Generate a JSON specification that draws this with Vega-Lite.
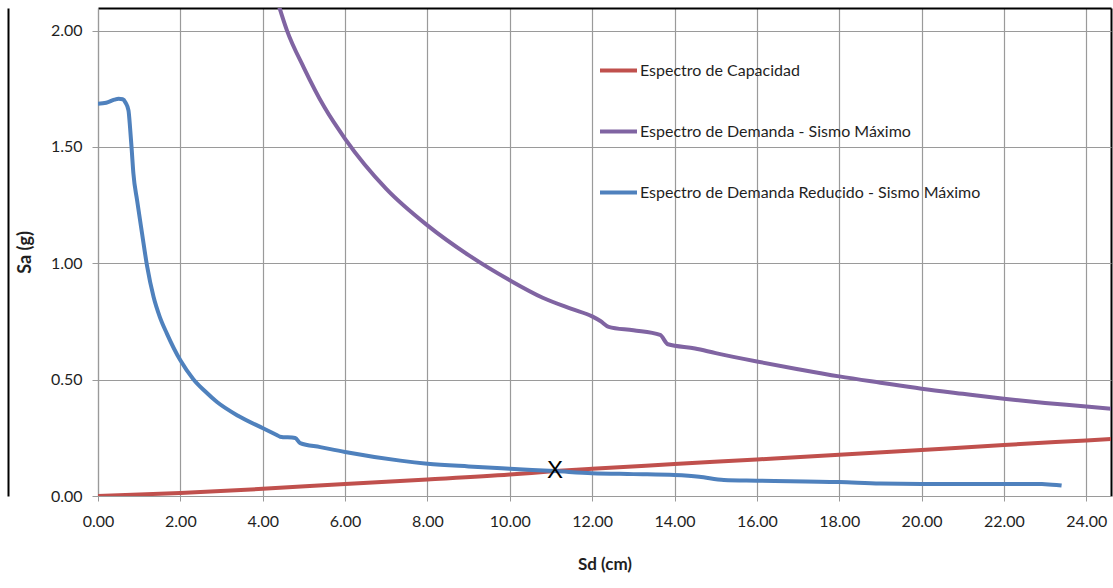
{
  "$schema": "https://vega.github.io/schema/vega-lite/v6.json",
  "autosize": {"type": "none"},
  "padding": {"left": 98, "top": 8, "right": 2, "bottom": 92},
  "width": 1013,
  "height": 488,
  "background": "white",
  "config": {
    "view": {"stroke": null},
    "font": "Lato",
    "axis": {"labelFont": "Lato", "titleFont": "Lato"},
    "legend": {"labelFont": "Lato"}
  },
  "datasets": {
    "curves": [
      {"serie": "Espectro de Capacidad", "sd": 0, "sa": 0},
      {"serie": "Espectro de Capacidad", "sd": 2, "sa": 0.013},
      {"serie": "Espectro de Capacidad", "sd": 4, "sa": 0.031},
      {"serie": "Espectro de Capacidad", "sd": 6, "sa": 0.052},
      {"serie": "Espectro de Capacidad", "sd": 8, "sa": 0.071},
      {"serie": "Espectro de Capacidad", "sd": 10, "sa": 0.092},
      {"serie": "Espectro de Capacidad", "sd": 11.1, "sa": 0.107},
      {"serie": "Espectro de Capacidad", "sd": 12, "sa": 0.117},
      {"serie": "Espectro de Capacidad", "sd": 14, "sa": 0.137},
      {"serie": "Espectro de Capacidad", "sd": 16, "sa": 0.157},
      {"serie": "Espectro de Capacidad", "sd": 18, "sa": 0.177},
      {"serie": "Espectro de Capacidad", "sd": 20, "sa": 0.198},
      {"serie": "Espectro de Capacidad", "sd": 22, "sa": 0.219},
      {"serie": "Espectro de Capacidad", "sd": 24, "sa": 0.239},
      {"serie": "Espectro de Capacidad", "sd": 24.6, "sa": 0.245},

      {"serie": "Espectro de Demanda -  Sismo Máximo", "sd": 4.3, "sa": 2.16},
      {"serie": "Espectro de Demanda -  Sismo Máximo", "sd": 4.59, "sa": 2.0},
      {"serie": "Espectro de Demanda -  Sismo Máximo", "sd": 5, "sa": 1.84},
      {"serie": "Espectro de Demanda -  Sismo Máximo", "sd": 5.5, "sa": 1.67},
      {"serie": "Espectro de Demanda -  Sismo Máximo", "sd": 6, "sa": 1.535},
      {"serie": "Espectro de Demanda -  Sismo Máximo", "sd": 7, "sa": 1.32},
      {"serie": "Espectro de Demanda -  Sismo Máximo", "sd": 8, "sa": 1.163},
      {"serie": "Espectro de Demanda -  Sismo Máximo", "sd": 9, "sa": 1.035},
      {"serie": "Espectro de Demanda -  Sismo Máximo", "sd": 10, "sa": 0.927},
      {"serie": "Espectro de Demanda -  Sismo Máximo", "sd": 10.8, "sa": 0.852},
      {"serie": "Espectro de Demanda -  Sismo Máximo", "sd": 11.5, "sa": 0.804},
      {"serie": "Espectro de Demanda -  Sismo Máximo", "sd": 12, "sa": 0.772},
      {"serie": "Espectro de Demanda -  Sismo Máximo", "sd": 12.2, "sa": 0.752},
      {"serie": "Espectro de Demanda -  Sismo Máximo", "sd": 12.4, "sa": 0.727},
      {"serie": "Espectro de Demanda -  Sismo Máximo", "sd": 13, "sa": 0.712},
      {"serie": "Espectro de Demanda -  Sismo Máximo", "sd": 13.65, "sa": 0.692},
      {"serie": "Espectro de Demanda -  Sismo Máximo", "sd": 13.84, "sa": 0.652},
      {"serie": "Espectro de Demanda -  Sismo Máximo", "sd": 14.5, "sa": 0.634},
      {"serie": "Espectro de Demanda -  Sismo Máximo", "sd": 15, "sa": 0.614},
      {"serie": "Espectro de Demanda -  Sismo Máximo", "sd": 16, "sa": 0.578},
      {"serie": "Espectro de Demanda -  Sismo Máximo", "sd": 17, "sa": 0.545},
      {"serie": "Espectro de Demanda -  Sismo Máximo", "sd": 18, "sa": 0.514},
      {"serie": "Espectro de Demanda -  Sismo Máximo", "sd": 19, "sa": 0.487},
      {"serie": "Espectro de Demanda -  Sismo Máximo", "sd": 20, "sa": 0.461},
      {"serie": "Espectro de Demanda -  Sismo Máximo", "sd": 21, "sa": 0.439},
      {"serie": "Espectro de Demanda -  Sismo Máximo", "sd": 22, "sa": 0.418},
      {"serie": "Espectro de Demanda -  Sismo Máximo", "sd": 23, "sa": 0.4},
      {"serie": "Espectro de Demanda -  Sismo Máximo", "sd": 24, "sa": 0.385},
      {"serie": "Espectro de Demanda -  Sismo Máximo", "sd": 24.6, "sa": 0.375},

      {"serie": "Espectro de Demanda Reducido -  Sismo Máximo", "sd": 0, "sa": 1.686},
      {"serie": "Espectro de Demanda Reducido -  Sismo Máximo", "sd": 0.2, "sa": 1.69},
      {"serie": "Espectro de Demanda Reducido -  Sismo Máximo", "sd": 0.4, "sa": 1.703},
      {"serie": "Espectro de Demanda Reducido -  Sismo Máximo", "sd": 0.5, "sa": 1.707},
      {"serie": "Espectro de Demanda Reducido -  Sismo Máximo", "sd": 0.6, "sa": 1.705},
      {"serie": "Espectro de Demanda Reducido -  Sismo Máximo", "sd": 0.67, "sa": 1.69},
      {"serie": "Espectro de Demanda Reducido -  Sismo Máximo", "sd": 0.74, "sa": 1.657},
      {"serie": "Espectro de Demanda Reducido -  Sismo Máximo", "sd": 0.78, "sa": 1.58},
      {"serie": "Espectro de Demanda Reducido -  Sismo Máximo", "sd": 0.82, "sa": 1.485},
      {"serie": "Espectro de Demanda Reducido -  Sismo Máximo", "sd": 0.86, "sa": 1.385},
      {"serie": "Espectro de Demanda Reducido -  Sismo Máximo", "sd": 0.95, "sa": 1.27},
      {"serie": "Espectro de Demanda Reducido -  Sismo Máximo", "sd": 1.07, "sa": 1.128},
      {"serie": "Espectro de Demanda Reducido -  Sismo Máximo", "sd": 1.19, "sa": 0.99},
      {"serie": "Espectro de Demanda Reducido -  Sismo Máximo", "sd": 1.35, "sa": 0.855},
      {"serie": "Espectro de Demanda Reducido -  Sismo Máximo", "sd": 1.5, "sa": 0.77},
      {"serie": "Espectro de Demanda Reducido -  Sismo Máximo", "sd": 1.67, "sa": 0.699},
      {"serie": "Espectro de Demanda Reducido -  Sismo Máximo", "sd": 2.0, "sa": 0.583},
      {"serie": "Espectro de Demanda Reducido -  Sismo Máximo", "sd": 2.32, "sa": 0.501},
      {"serie": "Espectro de Demanda Reducido -  Sismo Máximo", "sd": 2.6, "sa": 0.45},
      {"serie": "Espectro de Demanda Reducido -  Sismo Máximo", "sd": 2.89, "sa": 0.404},
      {"serie": "Espectro de Demanda Reducido -  Sismo Máximo", "sd": 3.4, "sa": 0.345},
      {"serie": "Espectro de Demanda Reducido -  Sismo Máximo", "sd": 4.02, "sa": 0.29},
      {"serie": "Espectro de Demanda Reducido -  Sismo Máximo", "sd": 4.34, "sa": 0.262},
      {"serie": "Espectro de Demanda Reducido -  Sismo Máximo", "sd": 4.42, "sa": 0.255},
      {"serie": "Espectro de Demanda Reducido -  Sismo Máximo", "sd": 4.79, "sa": 0.249},
      {"serie": "Espectro de Demanda Reducido -  Sismo Máximo", "sd": 4.91, "sa": 0.227},
      {"serie": "Espectro de Demanda Reducido -  Sismo Máximo", "sd": 5.4, "sa": 0.21},
      {"serie": "Espectro de Demanda Reducido -  Sismo Máximo", "sd": 6.0, "sa": 0.189},
      {"serie": "Espectro de Demanda Reducido -  Sismo Máximo", "sd": 7.34, "sa": 0.152},
      {"serie": "Espectro de Demanda Reducido -  Sismo Máximo", "sd": 8, "sa": 0.139},
      {"serie": "Espectro de Demanda Reducido -  Sismo Máximo", "sd": 9, "sa": 0.127},
      {"serie": "Espectro de Demanda Reducido -  Sismo Máximo", "sd": 10, "sa": 0.117},
      {"serie": "Espectro de Demanda Reducido -  Sismo Máximo", "sd": 11.1, "sa": 0.107},
      {"serie": "Espectro de Demanda Reducido -  Sismo Máximo", "sd": 12, "sa": 0.098},
      {"serie": "Espectro de Demanda Reducido -  Sismo Máximo", "sd": 13, "sa": 0.094},
      {"serie": "Espectro de Demanda Reducido -  Sismo Máximo", "sd": 14, "sa": 0.09},
      {"serie": "Espectro de Demanda Reducido -  Sismo Máximo", "sd": 14.6, "sa": 0.083},
      {"serie": "Espectro de Demanda Reducido -  Sismo Máximo", "sd": 15.2, "sa": 0.069},
      {"serie": "Espectro de Demanda Reducido -  Sismo Máximo", "sd": 16, "sa": 0.066},
      {"serie": "Espectro de Demanda Reducido -  Sismo Máximo", "sd": 18, "sa": 0.06},
      {"serie": "Espectro de Demanda Reducido -  Sismo Máximo", "sd": 19, "sa": 0.054},
      {"serie": "Espectro de Demanda Reducido -  Sismo Máximo", "sd": 20, "sa": 0.052},
      {"serie": "Espectro de Demanda Reducido -  Sismo Máximo", "sd": 22, "sa": 0.052},
      {"serie": "Espectro de Demanda Reducido -  Sismo Máximo", "sd": 23, "sa": 0.051},
      {"serie": "Espectro de Demanda Reducido -  Sismo Máximo", "sd": 23.4, "sa": 0.045}
    ],
    "marker": [{"sd": 11.1, "sa": 0.108, "label": "X"}]
  },
  "layer": [
    {
      "data": {"name": "curves"},
      "mark": {"type": "line", "strokeWidth": 4, "clip": true, "interpolate": "monotone"},
      "encoding": {
        "x": {
          "field": "sd", "type": "quantitative",
          "scale": {"domain": [0, 24.6], "nice": false, "zero": false},
          "axis": {
            "title": "Sd (cm)", "titleFontSize": 17, "titleFontWeight": "bold", "titleColor": "#1f1f1f", "titlePadding": 27,
            "values": [0, 2, 4, 6, 8, 10, 12, 14, 16, 18, 20, 22, 24, 24.6],
            "labelExpr": "datum.value > 24.5 ? '' : format(datum.value, '.2f')",
            "labelFontSize": 16, "labelColor": "#1f1f1f", "labelPadding": 12, "labelFlush": false, "labelOverlap": false,
            "tickSize": 5,
            "tickColor": {"condition": {"test": "datum.value > 24.5", "value": "transparent"}, "value": "#9a9a9a"},
            "grid": true,
            "gridColor": {"condition": {"test": "datum.value > 24.5", "value": "#000000"}, "value": "#9a9a9a"},
            "gridWidth": {"condition": {"test": "datum.value > 24.5", "value": 2}, "value": 1.2},
            "domainColor": "#9a9a9a", "domainWidth": 1.2
          }
        },
        "y": {
          "field": "sa", "type": "quantitative",
          "scale": {"domain": [0, 2.097], "nice": false, "zero": false},
          "axis": {
            "title": "Sa (g)", "titleFontSize": 18, "titleFontWeight": "bold", "titleColor": "#1f1f1f", "titlePadding": 16,
            "values": [0, 0.5, 1, 1.5, 2, 2.097],
            "labelExpr": "datum.value > 2.05 ? '' : format(datum.value, '.2f')",
            "labelFontSize": 16, "labelColor": "#1f1f1f", "labelPadding": 10, "labelFlush": false, "labelOverlap": false,
            "tickSize": 6,
            "tickColor": {"condition": {"test": "datum.value > 2.05", "value": "transparent"}, "value": "#9a9a9a"},
            "grid": true,
            "gridColor": {"condition": {"test": "datum.value > 2.05", "value": "#000000"}, "value": "#9a9a9a"},
            "gridWidth": {"condition": {"test": "datum.value > 2.05", "value": 2}, "value": 1.2},
            "domainColor": "#9a9a9a", "domainWidth": 1.2
          }
        },
        "color": {
          "field": "serie", "type": "nominal",
          "scale": {
            "domain": ["Espectro de Capacidad", "Espectro de Demanda -  Sismo Máximo", "Espectro de Demanda Reducido -  Sismo Máximo"],
            "range": ["#C0504D", "#8064A2", "#4F81BD"]
          },
          "legend": {
            "title": null, "orient": "none", "legendX": 500, "legendY": 42,
            "symbolType": "stroke", "symbolSize": 1369, "symbolStrokeWidth": 4,
            "labelFontSize": 16, "labelColor": "#1f1f1f", "labelLimit": 500, "labelOffset": 1,
            "rowPadding": 32, "padding": 0
          }
        }
      }
    },
    {
      "data": {"name": "marker"},
      "mark": {"type": "text", "fontSize": 24, "font": "Liberation Sans", "color": "#000000", "baseline": "middle", "align": "center"},
      "encoding": {
        "x": {"field": "sd", "type": "quantitative"},
        "y": {
          "field": "sa", "type": "quantitative",
          "axis": {"orient": "left", "offset": 90, "labels": false, "ticks": false, "grid": false, "title": null, "domainColor": "#000000", "domainWidth": 2}
        },
        "text": {"field": "label"}
      }
    }
  ],
  "resolve": {"axis": {"y": "independent"}}
}
